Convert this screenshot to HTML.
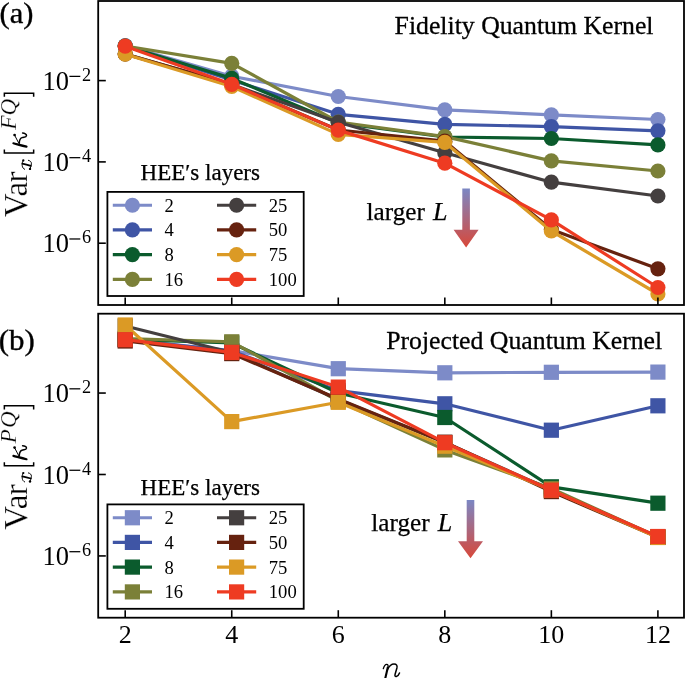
<!DOCTYPE html>
<html><head><meta charset="utf-8"><style>html,body{margin:0;padding:0;background:#fff;}body{width:685px;height:678px;overflow:hidden;font-family:'Liberation Serif', serif;}</style></head><body>
<svg width="685" height="678" viewBox="0 0 685 678" style="display:block;font-family:'Liberation Serif', serif;will-change:transform">
<rect x="0" y="0" width="685" height="678" fill="#fff"/>
<defs><linearGradient id="ag" x1="0" y1="0" x2="0" y2="1"><stop offset="0" stop-color="#7B87C4"/><stop offset="1" stop-color="#D8483A"/></linearGradient></defs>
<g clip-path="none">
<polyline points="125.20,45.50 231.74,76.20 338.28,96.50 444.82,109.90 551.36,114.80 657.90,119.50" fill="none" stroke="#7D8BC8" stroke-width="3.2" stroke-linejoin="round" stroke-linecap="butt"/>
<circle cx="125.20" cy="45.50" r="7.6" fill="#7D8BC8"/>
<circle cx="231.74" cy="76.20" r="7.6" fill="#7D8BC8"/>
<circle cx="338.28" cy="96.50" r="7.6" fill="#7D8BC8"/>
<circle cx="444.82" cy="109.90" r="7.6" fill="#7D8BC8"/>
<circle cx="551.36" cy="114.80" r="7.6" fill="#7D8BC8"/>
<circle cx="657.90" cy="119.50" r="7.6" fill="#7D8BC8"/>
<polyline points="125.20,46.00 231.74,80.00 338.28,114.30 444.82,124.40 551.36,126.60 657.90,130.80" fill="none" stroke="#3F55A5" stroke-width="3.2" stroke-linejoin="round" stroke-linecap="butt"/>
<circle cx="125.20" cy="46.00" r="7.6" fill="#3F55A5"/>
<circle cx="231.74" cy="80.00" r="7.6" fill="#3F55A5"/>
<circle cx="338.28" cy="114.30" r="7.6" fill="#3F55A5"/>
<circle cx="444.82" cy="124.40" r="7.6" fill="#3F55A5"/>
<circle cx="551.36" cy="126.60" r="7.6" fill="#3F55A5"/>
<circle cx="657.90" cy="130.80" r="7.6" fill="#3F55A5"/>
<polyline points="125.20,46.00 231.74,78.40 338.28,123.00 444.82,137.00 551.36,138.50 657.90,144.90" fill="none" stroke="#0B5B2D" stroke-width="3.2" stroke-linejoin="round" stroke-linecap="butt"/>
<circle cx="125.20" cy="46.00" r="7.6" fill="#0B5B2D"/>
<circle cx="231.74" cy="78.40" r="7.6" fill="#0B5B2D"/>
<circle cx="338.28" cy="123.00" r="7.6" fill="#0B5B2D"/>
<circle cx="444.82" cy="137.00" r="7.6" fill="#0B5B2D"/>
<circle cx="551.36" cy="138.50" r="7.6" fill="#0B5B2D"/>
<circle cx="657.90" cy="144.90" r="7.6" fill="#0B5B2D"/>
<polyline points="125.20,46.00 231.74,63.30 338.28,122.00 444.82,136.60 551.36,160.90 657.90,171.00" fill="none" stroke="#7B8038" stroke-width="3.2" stroke-linejoin="round" stroke-linecap="butt"/>
<circle cx="125.20" cy="46.00" r="7.6" fill="#7B8038"/>
<circle cx="231.74" cy="63.30" r="7.6" fill="#7B8038"/>
<circle cx="338.28" cy="122.00" r="7.6" fill="#7B8038"/>
<circle cx="444.82" cy="136.60" r="7.6" fill="#7B8038"/>
<circle cx="551.36" cy="160.90" r="7.6" fill="#7B8038"/>
<circle cx="657.90" cy="171.00" r="7.6" fill="#7B8038"/>
<polyline points="125.20,54.00 231.74,84.50 338.28,122.30 444.82,152.80 551.36,182.20 657.90,196.00" fill="none" stroke="#443F3F" stroke-width="3.2" stroke-linejoin="round" stroke-linecap="butt"/>
<circle cx="125.20" cy="54.00" r="7.6" fill="#443F3F"/>
<circle cx="231.74" cy="84.50" r="7.6" fill="#443F3F"/>
<circle cx="338.28" cy="122.30" r="7.6" fill="#443F3F"/>
<circle cx="444.82" cy="152.80" r="7.6" fill="#443F3F"/>
<circle cx="551.36" cy="182.20" r="7.6" fill="#443F3F"/>
<circle cx="657.90" cy="196.00" r="7.6" fill="#443F3F"/>
<polyline points="125.20,54.00 231.74,84.60 338.28,130.00 444.82,141.20 551.36,229.50 657.90,268.80" fill="none" stroke="#66220F" stroke-width="3.2" stroke-linejoin="round" stroke-linecap="butt"/>
<circle cx="125.20" cy="54.00" r="7.6" fill="#66220F"/>
<circle cx="231.74" cy="84.60" r="7.6" fill="#66220F"/>
<circle cx="338.28" cy="130.00" r="7.6" fill="#66220F"/>
<circle cx="444.82" cy="141.20" r="7.6" fill="#66220F"/>
<circle cx="551.36" cy="229.50" r="7.6" fill="#66220F"/>
<circle cx="657.90" cy="268.80" r="7.6" fill="#66220F"/>
<polyline points="125.20,54.20 231.74,86.50 338.28,134.40 444.82,142.40 551.36,231.00 657.90,294.00" fill="none" stroke="#DB9A25" stroke-width="3.2" stroke-linejoin="round" stroke-linecap="butt"/>
<circle cx="125.20" cy="54.20" r="7.6" fill="#DB9A25"/>
<circle cx="231.74" cy="86.50" r="7.6" fill="#DB9A25"/>
<circle cx="338.28" cy="134.40" r="7.6" fill="#DB9A25"/>
<circle cx="444.82" cy="142.40" r="7.6" fill="#DB9A25"/>
<circle cx="551.36" cy="231.00" r="7.6" fill="#DB9A25"/>
<circle cx="657.90" cy="294.00" r="7.6" fill="#DB9A25"/>
<polyline points="125.20,46.20 231.74,84.30 338.28,130.10 444.82,163.20 551.36,219.90 657.90,287.50" fill="none" stroke="#EE3B22" stroke-width="3.2" stroke-linejoin="round" stroke-linecap="butt"/>
<circle cx="125.20" cy="46.20" r="7.6" fill="#EE3B22"/>
<circle cx="231.74" cy="84.30" r="7.6" fill="#EE3B22"/>
<circle cx="338.28" cy="130.10" r="7.6" fill="#EE3B22"/>
<circle cx="444.82" cy="163.20" r="7.6" fill="#EE3B22"/>
<circle cx="551.36" cy="219.90" r="7.6" fill="#EE3B22"/>
<circle cx="657.90" cy="287.50" r="7.6" fill="#EE3B22"/>
</g>
<line x1="125.20" y1="305.0" x2="125.20" y2="297.5" stroke="#000" stroke-width="1.6"/>
<line x1="231.74" y1="305.0" x2="231.74" y2="297.5" stroke="#000" stroke-width="1.6"/>
<line x1="338.28" y1="305.0" x2="338.28" y2="297.5" stroke="#000" stroke-width="1.6"/>
<line x1="444.82" y1="305.0" x2="444.82" y2="297.5" stroke="#000" stroke-width="1.6"/>
<line x1="551.36" y1="305.0" x2="551.36" y2="297.5" stroke="#000" stroke-width="1.6"/>
<line x1="657.90" y1="305.0" x2="657.90" y2="297.5" stroke="#000" stroke-width="1.6"/>
<text x="394.6" y="33.9" font-size="25.75" fill="#000" stroke="#000" stroke-width="0.3">Fidelity Quantum Kernel</text>
<text x="366.60" y="220.4" font-size="25.2" fill="#000" stroke="#000" stroke-width="0.25">larger</text>
<text x="433.00" y="220.4" font-size="26" font-style="italic" fill="#000" stroke="#000" stroke-width="0.25">L</text>
<path d="M462.30,188.5 L469.90,188.5 L469.90,229.7 L478.60,229.7 L466.10,247.4 L453.60,229.7 L462.30,229.7 Z" fill="url(#ag)"/>
<text x="140.6" y="180.4" font-size="23" fill="#000" stroke="#000" stroke-width="0.25">HEE′s layers</text>
<rect x="107.4" y="191.90" width="196.3" height="104.10" fill="#fff" stroke="#000" stroke-width="1.8"/>
<line x1="112.8" y1="205.25" x2="152.0" y2="205.25" stroke="#7D8BC8" stroke-width="3.2"/>
<circle cx="132.40" cy="205.25" r="7.6" fill="#7D8BC8"/>
<text x="164.5" y="211.75" font-size="18.6" fill="#000">2</text>
<line x1="112.8" y1="229.90" x2="152.0" y2="229.90" stroke="#3F55A5" stroke-width="3.2"/>
<circle cx="132.40" cy="229.90" r="7.6" fill="#3F55A5"/>
<text x="164.5" y="236.40" font-size="18.6" fill="#000">4</text>
<line x1="112.8" y1="254.60" x2="152.0" y2="254.60" stroke="#0B5B2D" stroke-width="3.2"/>
<circle cx="132.40" cy="254.60" r="7.6" fill="#0B5B2D"/>
<text x="164.5" y="261.10" font-size="18.6" fill="#000">8</text>
<line x1="112.8" y1="279.40" x2="152.0" y2="279.40" stroke="#7B8038" stroke-width="3.2"/>
<circle cx="132.40" cy="279.40" r="7.6" fill="#7B8038"/>
<text x="164.5" y="285.90" font-size="18.6" fill="#000">16</text>
<line x1="217.0" y1="205.25" x2="256.2" y2="205.25" stroke="#443F3F" stroke-width="3.2"/>
<circle cx="236.60" cy="205.25" r="7.6" fill="#443F3F"/>
<text x="268.8" y="211.75" font-size="18.6" fill="#000">25</text>
<line x1="217.0" y1="229.90" x2="256.2" y2="229.90" stroke="#66220F" stroke-width="3.2"/>
<circle cx="236.60" cy="229.90" r="7.6" fill="#66220F"/>
<text x="268.8" y="236.40" font-size="18.6" fill="#000">50</text>
<line x1="217.0" y1="254.60" x2="256.2" y2="254.60" stroke="#DB9A25" stroke-width="3.2"/>
<circle cx="236.60" cy="254.60" r="7.6" fill="#DB9A25"/>
<text x="268.8" y="261.10" font-size="18.6" fill="#000">75</text>
<line x1="217.0" y1="279.40" x2="256.2" y2="279.40" stroke="#EE3B22" stroke-width="3.2"/>
<circle cx="236.60" cy="279.40" r="7.6" fill="#EE3B22"/>
<text x="268.8" y="285.90" font-size="18.6" fill="#000">100</text>
<rect x="98.2" y="1.0" width="585.8" height="304.0" fill="none" stroke="#000" stroke-width="1.8"/>
<line x1="98.2" y1="80.60" x2="105.8" y2="80.60" stroke="#000" stroke-width="1.6"/>
<text x="42.5" y="89.80" font-size="26.5" fill="#000">10</text>
<rect x="69.4" y="75.75" width="10.9" height="1.25" fill="#000"/>
<text x="82.0" y="80.70" font-size="18.3" fill="#000">2</text>
<line x1="98.2" y1="161.90" x2="105.8" y2="161.90" stroke="#000" stroke-width="1.6"/>
<text x="42.5" y="171.10" font-size="26.5" fill="#000">10</text>
<rect x="69.4" y="157.05" width="10.9" height="1.25" fill="#000"/>
<text x="82.0" y="162.00" font-size="18.3" fill="#000">4</text>
<line x1="98.2" y1="243.20" x2="105.8" y2="243.20" stroke="#000" stroke-width="1.6"/>
<text x="42.5" y="252.40" font-size="26.5" fill="#000">10</text>
<rect x="69.4" y="238.35" width="10.9" height="1.25" fill="#000"/>
<text x="82.0" y="243.30" font-size="18.3" fill="#000">6</text>
<g clip-path="none">
<polyline points="125.20,339.70 231.74,350.50 338.28,368.70 444.82,372.80 551.36,372.30 657.90,372.10" fill="none" stroke="#7D8BC8" stroke-width="3.2" stroke-linejoin="round" stroke-linecap="butt"/>
<rect x="117.60" y="332.10" width="15.2" height="15.2" fill="#7D8BC8"/>
<rect x="224.14" y="342.90" width="15.2" height="15.2" fill="#7D8BC8"/>
<rect x="330.68" y="361.10" width="15.2" height="15.2" fill="#7D8BC8"/>
<rect x="437.22" y="365.20" width="15.2" height="15.2" fill="#7D8BC8"/>
<rect x="543.76" y="364.70" width="15.2" height="15.2" fill="#7D8BC8"/>
<rect x="650.30" y="364.50" width="15.2" height="15.2" fill="#7D8BC8"/>
<polyline points="125.20,339.70 231.74,351.00 338.28,390.70 444.82,403.80 551.36,430.20 657.90,405.80" fill="none" stroke="#3F55A5" stroke-width="3.2" stroke-linejoin="round" stroke-linecap="butt"/>
<rect x="117.60" y="332.10" width="15.2" height="15.2" fill="#3F55A5"/>
<rect x="224.14" y="343.40" width="15.2" height="15.2" fill="#3F55A5"/>
<rect x="330.68" y="383.10" width="15.2" height="15.2" fill="#3F55A5"/>
<rect x="437.22" y="396.20" width="15.2" height="15.2" fill="#3F55A5"/>
<rect x="543.76" y="422.60" width="15.2" height="15.2" fill="#3F55A5"/>
<rect x="650.30" y="398.20" width="15.2" height="15.2" fill="#3F55A5"/>
<polyline points="125.20,339.50 231.74,343.00 338.28,393.00 444.82,417.50 551.36,486.80 657.90,503.20" fill="none" stroke="#0B5B2D" stroke-width="3.2" stroke-linejoin="round" stroke-linecap="butt"/>
<rect x="117.60" y="331.90" width="15.2" height="15.2" fill="#0B5B2D"/>
<rect x="224.14" y="335.40" width="15.2" height="15.2" fill="#0B5B2D"/>
<rect x="330.68" y="385.40" width="15.2" height="15.2" fill="#0B5B2D"/>
<rect x="437.22" y="409.90" width="15.2" height="15.2" fill="#0B5B2D"/>
<rect x="543.76" y="479.20" width="15.2" height="15.2" fill="#0B5B2D"/>
<rect x="650.30" y="495.60" width="15.2" height="15.2" fill="#0B5B2D"/>
<polyline points="125.20,338.50 231.74,341.80 338.28,401.00 444.82,449.90 551.36,488.50 657.90,537.00" fill="none" stroke="#7B8038" stroke-width="3.2" stroke-linejoin="round" stroke-linecap="butt"/>
<rect x="117.60" y="330.90" width="15.2" height="15.2" fill="#7B8038"/>
<rect x="224.14" y="334.20" width="15.2" height="15.2" fill="#7B8038"/>
<rect x="330.68" y="393.40" width="15.2" height="15.2" fill="#7B8038"/>
<rect x="437.22" y="442.30" width="15.2" height="15.2" fill="#7B8038"/>
<rect x="543.76" y="480.90" width="15.2" height="15.2" fill="#7B8038"/>
<rect x="650.30" y="529.40" width="15.2" height="15.2" fill="#7B8038"/>
<polyline points="125.20,326.00 231.74,352.50 338.28,399.50 444.82,442.50 551.36,490.00 657.90,537.00" fill="none" stroke="#443F3F" stroke-width="3.2" stroke-linejoin="round" stroke-linecap="butt"/>
<rect x="117.60" y="318.40" width="15.2" height="15.2" fill="#443F3F"/>
<rect x="224.14" y="344.90" width="15.2" height="15.2" fill="#443F3F"/>
<rect x="330.68" y="391.90" width="15.2" height="15.2" fill="#443F3F"/>
<rect x="437.22" y="434.90" width="15.2" height="15.2" fill="#443F3F"/>
<rect x="543.76" y="482.40" width="15.2" height="15.2" fill="#443F3F"/>
<rect x="650.30" y="529.40" width="15.2" height="15.2" fill="#443F3F"/>
<polyline points="125.20,341.00 231.74,353.60 338.28,399.00 444.82,442.20 551.36,491.60 657.90,537.30" fill="none" stroke="#66220F" stroke-width="3.2" stroke-linejoin="round" stroke-linecap="butt"/>
<rect x="117.60" y="333.40" width="15.2" height="15.2" fill="#66220F"/>
<rect x="224.14" y="346.00" width="15.2" height="15.2" fill="#66220F"/>
<rect x="330.68" y="391.40" width="15.2" height="15.2" fill="#66220F"/>
<rect x="437.22" y="434.60" width="15.2" height="15.2" fill="#66220F"/>
<rect x="543.76" y="484.00" width="15.2" height="15.2" fill="#66220F"/>
<rect x="650.30" y="529.70" width="15.2" height="15.2" fill="#66220F"/>
<polyline points="125.20,325.00 231.74,421.60 338.28,402.30 444.82,446.20 551.36,490.00 657.90,537.50" fill="none" stroke="#DB9A25" stroke-width="3.2" stroke-linejoin="round" stroke-linecap="butt"/>
<rect x="117.60" y="317.40" width="15.2" height="15.2" fill="#DB9A25"/>
<rect x="224.14" y="414.00" width="15.2" height="15.2" fill="#DB9A25"/>
<rect x="330.68" y="394.70" width="15.2" height="15.2" fill="#DB9A25"/>
<rect x="437.22" y="438.60" width="15.2" height="15.2" fill="#DB9A25"/>
<rect x="543.76" y="482.40" width="15.2" height="15.2" fill="#DB9A25"/>
<rect x="650.30" y="529.90" width="15.2" height="15.2" fill="#DB9A25"/>
<polyline points="125.20,339.70 231.74,352.40 338.28,387.10 444.82,442.70 551.36,490.20 657.90,536.50" fill="none" stroke="#EE3B22" stroke-width="3.2" stroke-linejoin="round" stroke-linecap="butt"/>
<rect x="117.60" y="332.10" width="15.2" height="15.2" fill="#EE3B22"/>
<rect x="224.14" y="344.80" width="15.2" height="15.2" fill="#EE3B22"/>
<rect x="330.68" y="379.50" width="15.2" height="15.2" fill="#EE3B22"/>
<rect x="437.22" y="435.10" width="15.2" height="15.2" fill="#EE3B22"/>
<rect x="543.76" y="482.60" width="15.2" height="15.2" fill="#EE3B22"/>
<rect x="650.30" y="528.90" width="15.2" height="15.2" fill="#EE3B22"/>
</g>
<line x1="125.20" y1="617.7" x2="125.20" y2="610.2" stroke="#000" stroke-width="1.6"/>
<line x1="231.74" y1="617.7" x2="231.74" y2="610.2" stroke="#000" stroke-width="1.6"/>
<line x1="338.28" y1="617.7" x2="338.28" y2="610.2" stroke="#000" stroke-width="1.6"/>
<line x1="444.82" y1="617.7" x2="444.82" y2="610.2" stroke="#000" stroke-width="1.6"/>
<line x1="551.36" y1="617.7" x2="551.36" y2="610.2" stroke="#000" stroke-width="1.6"/>
<line x1="657.90" y1="617.7" x2="657.90" y2="610.2" stroke="#000" stroke-width="1.6"/>
<text x="386.2" y="348.7" font-size="25.75" fill="#000" stroke="#000" stroke-width="0.3">Projected Quantum Kernel</text>
<text x="371.30" y="530.8" font-size="25.2" fill="#000" stroke="#000" stroke-width="0.25">larger</text>
<text x="437.70" y="530.8" font-size="26" font-style="italic" fill="#000" stroke="#000" stroke-width="0.25">L</text>
<path d="M466.70,499.9 L474.30,499.9 L474.30,541.2 L483.00,541.2 L470.50,558.3 L458.00,541.2 L466.70,541.2 Z" fill="url(#ag)"/>
<text x="140.6" y="495.2" font-size="23" fill="#000" stroke="#000" stroke-width="0.25">HEE′s layers</text>
<rect x="107.4" y="504.40" width="196.3" height="104.40" fill="#fff" stroke="#000" stroke-width="1.8"/>
<line x1="112.8" y1="517.75" x2="152.0" y2="517.75" stroke="#7D8BC8" stroke-width="3.2"/>
<rect x="124.80" y="510.15" width="15.2" height="15.2" fill="#7D8BC8"/>
<text x="164.5" y="524.25" font-size="18.6" fill="#000">2</text>
<line x1="112.8" y1="542.40" x2="152.0" y2="542.40" stroke="#3F55A5" stroke-width="3.2"/>
<rect x="124.80" y="534.80" width="15.2" height="15.2" fill="#3F55A5"/>
<text x="164.5" y="548.90" font-size="18.6" fill="#000">4</text>
<line x1="112.8" y1="567.10" x2="152.0" y2="567.10" stroke="#0B5B2D" stroke-width="3.2"/>
<rect x="124.80" y="559.50" width="15.2" height="15.2" fill="#0B5B2D"/>
<text x="164.5" y="573.60" font-size="18.6" fill="#000">8</text>
<line x1="112.8" y1="591.90" x2="152.0" y2="591.90" stroke="#7B8038" stroke-width="3.2"/>
<rect x="124.80" y="584.30" width="15.2" height="15.2" fill="#7B8038"/>
<text x="164.5" y="598.40" font-size="18.6" fill="#000">16</text>
<line x1="217.0" y1="517.75" x2="256.2" y2="517.75" stroke="#443F3F" stroke-width="3.2"/>
<rect x="229.00" y="510.15" width="15.2" height="15.2" fill="#443F3F"/>
<text x="268.8" y="524.25" font-size="18.6" fill="#000">25</text>
<line x1="217.0" y1="542.40" x2="256.2" y2="542.40" stroke="#66220F" stroke-width="3.2"/>
<rect x="229.00" y="534.80" width="15.2" height="15.2" fill="#66220F"/>
<text x="268.8" y="548.90" font-size="18.6" fill="#000">50</text>
<line x1="217.0" y1="567.10" x2="256.2" y2="567.10" stroke="#DB9A25" stroke-width="3.2"/>
<rect x="229.00" y="559.50" width="15.2" height="15.2" fill="#DB9A25"/>
<text x="268.8" y="573.60" font-size="18.6" fill="#000">75</text>
<line x1="217.0" y1="591.90" x2="256.2" y2="591.90" stroke="#EE3B22" stroke-width="3.2"/>
<rect x="229.00" y="584.30" width="15.2" height="15.2" fill="#EE3B22"/>
<text x="268.8" y="598.40" font-size="18.6" fill="#000">100</text>
<rect x="98.2" y="313.7" width="585.8" height="304.00000000000006" fill="none" stroke="#000" stroke-width="1.8"/>
<line x1="98.2" y1="393.05" x2="105.8" y2="393.05" stroke="#000" stroke-width="1.6"/>
<text x="42.5" y="402.25" font-size="26.5" fill="#000">10</text>
<rect x="69.4" y="388.20" width="10.9" height="1.25" fill="#000"/>
<text x="82.0" y="393.15" font-size="18.3" fill="#000">2</text>
<line x1="98.2" y1="474.49" x2="105.8" y2="474.49" stroke="#000" stroke-width="1.6"/>
<text x="42.5" y="483.69" font-size="26.5" fill="#000">10</text>
<rect x="69.4" y="469.64" width="10.9" height="1.25" fill="#000"/>
<text x="82.0" y="474.59" font-size="18.3" fill="#000">4</text>
<line x1="98.2" y1="555.93" x2="105.8" y2="555.93" stroke="#000" stroke-width="1.6"/>
<text x="42.5" y="565.13" font-size="26.5" fill="#000">10</text>
<rect x="69.4" y="551.08" width="10.9" height="1.25" fill="#000"/>
<text x="82.0" y="556.03" font-size="18.3" fill="#000">6</text>
<text x="125.20" y="643.2" font-size="26" text-anchor="middle" fill="#000">2</text>
<text x="231.74" y="643.2" font-size="26" text-anchor="middle" fill="#000">4</text>
<text x="338.28" y="643.2" font-size="26" text-anchor="middle" fill="#000">6</text>
<text x="444.82" y="643.2" font-size="26" text-anchor="middle" fill="#000">8</text>
<text x="551.36" y="643.2" font-size="26" text-anchor="middle" fill="#000">10</text>
<text x="657.90" y="643.2" font-size="26" text-anchor="middle" fill="#000">12</text>
<g fill="none" stroke="#000" stroke-linecap="round"><path d="M383.3,668.7 C384.0,666.2 385.3,664.3 386.7,664.3 C388.1,664.3 388.3,665.6 387.9,667.3" stroke-width="1.3"/><path d="M387.9,667.0 L385.0,679.5" stroke-width="2.1" stroke-linecap="butt"/><path d="M387.5,669.5 C389.4,665.9 391.7,664.1 394.0,664.1 C396.6,664.1 397.5,665.5 396.9,668.0 L395.1,674.2 C394.6,676.0 395.3,676.8 396.3,676.5 C397.7,676.1 398.9,674.5 399.5,672.9" stroke-width="1.5"/></g>
<g transform="translate(-0.5,23.3) scale(1.07,1)"><text x="0" y="0" font-size="28.6" fill="#000" stroke="#000" stroke-width="0.35">(a)</text></g>
<g transform="translate(-1.3,349.9) scale(1.07,1)"><text x="0" y="0" font-size="28.9" fill="#000" stroke="#000" stroke-width="0.35">(b)</text></g>
<g transform="translate(27.4,217.2) rotate(-90)" fill="#000" stroke="#fff" stroke-width="0.25">
<text x="0" y="0" font-size="33">V</text>
<text x="20.6" y="0" font-size="33">a</text>
<text x="34.6" y="0" font-size="33">r</text>
<text x="87.4" y="-11.4" font-size="23.5" font-style="italic">F</text>
<text x="101.8" y="-11.4" font-size="23" font-style="italic">Q</text>
</g>
<g transform="translate(0,0.00)" fill="none" stroke="#000" stroke-linecap="round"><path d="M13.4,143.3 C17,144.2 22,145.6 26.5,146.6" stroke-width="2.2"/><path d="M14.6,135.2 L18.7,143.0" stroke-width="1.0"/><circle cx="14.6" cy="135.0" r="1.35" fill="#000" stroke="none"/><path d="M19.3,143.3 C19.3,140.5 19.8,138.4 22.0,137.6 C24.0,136.9 26.2,137.6 26.5,135.6 C26.7,134.0 24.5,133.2 22.6,133.1" stroke-width="1.5"/><path d="M22.4,163.7 C25,164.2 28,165 30.8,165.9" stroke-width="1.7"/><path d="M23.0,160.8 C22.2,162 22.0,163.6 22.2,165.5 C22.4,167.5 23.4,168.8 24.6,169.3" stroke-width="1.0"/><path d="M28.4,160.3 C30.3,160.8 31.6,162 31.4,163.8 C31.2,165.8 30.6,167.5 30.1,168.5" stroke-width="1.0"/><circle cx="23.3" cy="160.5" r="1.15" fill="#000" stroke="none"/><circle cx="30.0" cy="168.9" r="1.2" fill="#000" stroke="none"/></g>
<path d="M4.35,96.80 V93.20 H33.65 V96.80" fill="none" stroke="#000" stroke-width="1.5"/>
<path d="M4.35,149.60 V153.10 H33.65 V149.60" fill="none" stroke="#000" stroke-width="1.5"/>
<g transform="translate(27.4,529.8) rotate(-90)" fill="#000" stroke="#fff" stroke-width="0.25">
<text x="0" y="0" font-size="33">V</text>
<text x="20.6" y="0" font-size="33">a</text>
<text x="34.6" y="0" font-size="33">r</text>
<text x="86.6" y="-11.4" font-size="23" font-style="italic">P</text>
<text x="101.8" y="-11.4" font-size="23" font-style="italic">Q</text>
</g>
<g transform="translate(0,312.60)" fill="none" stroke="#000" stroke-linecap="round"><path d="M13.4,143.3 C17,144.2 22,145.6 26.5,146.6" stroke-width="2.2"/><path d="M14.6,135.2 L18.7,143.0" stroke-width="1.0"/><circle cx="14.6" cy="135.0" r="1.35" fill="#000" stroke="none"/><path d="M19.3,143.3 C19.3,140.5 19.8,138.4 22.0,137.6 C24.0,136.9 26.2,137.6 26.5,135.6 C26.7,134.0 24.5,133.2 22.6,133.1" stroke-width="1.5"/><path d="M22.4,163.7 C25,164.2 28,165 30.8,165.9" stroke-width="1.7"/><path d="M23.0,160.8 C22.2,162 22.0,163.6 22.2,165.5 C22.4,167.5 23.4,168.8 24.6,169.3" stroke-width="1.0"/><path d="M28.4,160.3 C30.3,160.8 31.6,162 31.4,163.8 C31.2,165.8 30.6,167.5 30.1,168.5" stroke-width="1.0"/><circle cx="23.3" cy="160.5" r="1.15" fill="#000" stroke="none"/><circle cx="30.0" cy="168.9" r="1.2" fill="#000" stroke="none"/></g>
<path d="M4.35,409.40 V405.80 H33.65 V409.40" fill="none" stroke="#000" stroke-width="1.5"/>
<path d="M4.35,462.20 V465.70 H33.65 V462.20" fill="none" stroke="#000" stroke-width="1.5"/>
</svg>
</body></html>
